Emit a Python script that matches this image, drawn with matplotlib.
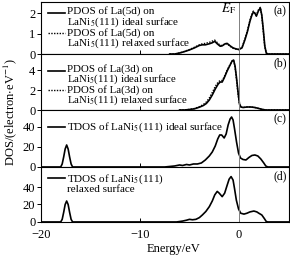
import numpy as np
import matplotlib
matplotlib.use("Agg")
from matplotlib import pyplot as plt

plt.rcParams['font.family'] = ['Liberation Serif', 'DejaVu Serif']
plt.rcParams['mathtext.fontset'] = 'stix'

# Panel (a): PDOS of La(5d)
e_a = [-7.0, -6.5, -6.0, -5.5, -5.0, -4.5, -4.0, -3.7, -3.4, -3.0, -2.7, -2.45, -2.2, -1.9, -1.7,
       -1.4, -1.2, -0.9, -0.6, -0.3, 0.0, 0.3, 0.6, 0.85, 1.1, 1.3, 1.45, 1.6, 1.75, 1.95, 2.15,
       2.3, 2.45, 2.6, 2.75, 2.9, 5.0]
a_ideal = [0, 0.0, 0.05, 0.12, 0.2, 0.3, 0.42, 0.45, 0.45, 0.5, 0.55, 0.62, 0.5, 0.38, 0.4,
           0.5, 0.52, 0.4, 0.3, 0.25, 0.22, 0.3, 0.7, 1.1, 1.6, 1.9, 2.05, 2.0, 1.85, 2.1, 2.25,
           1.9, 1.2, 0.4, 0.05, 0, 0]
a_relax = [0, 0.0, 0.05, 0.13, 0.22, 0.33, 0.45, 0.5, 0.52, 0.57, 0.63, 0.68, 0.56, 0.42, 0.42,
           0.5, 0.5, 0.38, 0.28, 0.24, 0.22, 0.32, 0.75, 1.15, 1.65, 1.95, 2.1, 1.98, 1.9, 2.15, 2.28,
           1.85, 1.1, 0.35, 0.05, 0, 0]

# Panel (b): PDOS of La(3d)
e_b = [-6.0, -5.5, -5.0, -4.5, -4.0, -3.6, -3.3, -3.0, -2.7, -2.4, -2.1, -1.9, -1.7, -1.5, -1.2,
       -0.9, -0.7, -0.55, -0.4, -0.25, -0.1, 0.05, 0.2, 0.4, 0.8, 1.2, 1.6, 2.0, 2.4, 2.7, 5.0]
b_ideal = [0, 0, 0.05, 0.12, 0.28, 0.45, 0.65, 1.0, 1.5, 2.1, 2.6, 2.8, 2.8, 3.2, 3.9,
           4.5, 4.9, 5.0, 4.4, 3.2, 1.8, 0.6, 0.3, 0.25, 0.3, 0.3, 0.25, 0.15, 0.05, 0, 0]
b_relax = [0, 0, 0.06, 0.15, 0.33, 0.55, 0.8, 1.2, 1.75, 2.35, 2.8, 2.95, 2.95, 3.3, 4.0,
           4.55, 4.9, 5.0, 4.3, 3.0, 1.6, 0.55, 0.3, 0.25, 0.3, 0.3, 0.25, 0.15, 0.05, 0, 0]

# Panel (c): TDOS ideal surface
e_c = [-20.0, -18.0, -17.85, -17.7, -17.55, -17.4, -17.25, -17.1, -16.95, -16.8, -7.5, -7.0, -6.5,
       -6.0, -5.7, -5.3, -5.0, -4.6, -4.2, -3.8, -3.4, -3.0, -2.7, -2.4, -2.15, -1.95, -1.75, -1.5,
       -1.3, -1.1, -0.9, -0.75, -0.6, -0.45, -0.25, -0.05, 0.15, 0.4, 0.7, 1.0, 1.3, 1.6, 1.9,
       2.2, 2.5, 2.7, 2.9, 5.0]
c_tdos = [0, 0, 3, 10, 18, 22, 18, 10, 3, 0, 0, 0.5, 1,
          2, 1.5, 2.5, 2, 3, 3, 4, 7, 11, 15, 21, 28, 32, 32, 29,
          33, 42, 48, 50, 47, 38, 25, 14, 9, 7.5, 7, 9.5, 11.5, 12, 11,
          8, 4, 1, 0, 0]

# Panel (d): TDOS relaxed surface
e_d = [-20.0, -18.0, -17.85, -17.7, -17.55, -17.4, -17.25, -17.1, -16.95, -16.8, -7.0, -6.3, -5.7,
       -5.3, -5.0, -4.7, -4.35, -4.0, -3.7, -3.35, -3.0, -2.7, -2.45, -2.2, -2.0, -1.7, -1.45,
       -1.2, -1.0, -0.8, -0.6, -0.45, -0.27, -0.05, 0.17, 0.5, 0.8, 1.1, 1.5, 1.8, 2.0, 2.3,
       2.55, 2.75, 2.9, 5.0]
d_tdos = [0, 0, 3, 11, 20, 24, 20, 11, 3, 0, 0, 0, 1,
          2, 3, 2.5, 3, 5, 8, 12, 17.5, 24, 31, 35, 33, 29, 33,
          42, 49, 52, 48, 38, 25, 15, 10, 9, 10, 11.5, 12.5, 11.5, 10, 8,
          4, 0.5, 0, 0]

panel_tags = ['(a)', '(b)', '(c)', '(d)']

fig, axes = plt.subplots(4, 1, figsize=(2.9, 2.56), dpi=100, sharex=True,
                         gridspec_kw={'height_ratios': [52, 56, 57, 55], 'hspace': 0})
fig.subplots_adjust(left=0.141, right=0.995, bottom=0.133, top=0.992)

lw = 1.2
axes[0].plot(e_a, a_ideal, color='black', lw=lw)
axes[0].plot(e_a, a_relax, color='black', lw=1.0, ls=(0, (1, 1)))
axes[1].plot(e_b, b_ideal, color='black', lw=lw)
axes[1].plot(e_b, b_relax, color='black', lw=1.0, ls=(0, (1, 1)))
axes[2].plot(e_c, c_tdos, color='black', lw=lw)
axes[3].plot(e_d, d_tdos, color='black', lw=lw)

axes[0].set_ylim(0, 2.54)
axes[0].set_yticks([0, 1, 2])
axes[1].set_ylim(0, 5.6)
axes[1].set_yticks([0, 2, 4])
axes[2].set_ylim(0, 57)
axes[2].set_yticks([0, 20, 40])
axes[3].set_ylim(0, 63)
axes[3].set_yticks([0, 20, 40])

for ax, tag in zip(axes, panel_tags):
    ax.set_xlim(-20, 5)
    ax.axvline(0, color='#808080', lw=0.7)
    ax.tick_params(axis='y', direction='out', length=3, width=0.7, labelsize=9, pad=1)
    ax.tick_params(axis='x', direction='in', length=3, width=0.7, labelsize=9, pad=5)
    for sp in ax.spines.values():
        sp.set_linewidth(0.8)
    ax.text(0.993, 0.83, tag, transform=ax.transAxes, ha='right', va='center', fontsize=8.5)

axes[3].set_xticks([-20, -10, 0])

# legend-like annotations
fs = 8
tr = axes[0].transAxes
axes[0].plot([0.028, 0.097], [0.79, 0.79], transform=tr, color='black', lw=lw)
axes[0].text(0.105, 0.70, 'PDOS of La(5d) on\nLaNi$_5$(111) ideal surface', transform=tr,
             fontsize=fs, va='center', ha='left', linespacing=0.88)
axes[0].plot([0.028, 0.097], [0.40, 0.40], transform=tr, color='black', lw=1.0, ls=(0, (1, 1)))
axes[0].text(0.105, 0.29, 'PDOS of La(5d) on\nLaNi$_5$(111) relaxed surface', transform=tr,
             fontsize=fs, va='center', ha='left', linespacing=0.88)
axes[0].text(-0.3, 0.87, r'$E_\mathrm{F}$', transform=axes[0].get_xaxis_transform(),
             fontsize=9.5, ha='right', va='center')

tr = axes[1].transAxes
axes[1].plot([0.028, 0.097], [0.69, 0.69], transform=tr, color='black', lw=lw)
axes[1].text(0.105, 0.625, 'PDOS of La(3d) on\nLaNi$_5$(111) ideal surface', transform=tr,
             fontsize=7.8, va='center', ha='left', linespacing=0.8)
axes[1].plot([0.028, 0.097], [0.35, 0.35], transform=tr, color='black', lw=1.0, ls=(0, (1, 1)))
axes[1].text(0.105, 0.245, 'PDOS of La(3d) on\nLaNi$_5$(111) relaxed surface', transform=tr,
             fontsize=7.8, va='center', ha='left', linespacing=0.8)

tr = axes[2].transAxes
axes[2].plot([0.028, 0.097], [0.70, 0.70], transform=tr, color='black', lw=lw)
axes[2].text(0.105, 0.70, 'TDOS of LaNi$_5$(111) ideal surface', transform=tr,
             fontsize=fs, va='center', ha='left')

tr = axes[3].transAxes
axes[3].plot([0.028, 0.097], [0.80, 0.80], transform=tr, color='black', lw=lw)
axes[3].text(0.105, 0.70, 'TDOS of LaNi$_5$(111)\nrelaxed surface', transform=tr,
             fontsize=fs, va='center', ha='left', linespacing=0.92)

fig.text(0.034, 0.5625, 'DOS/(electron$\\cdot$eV$^{-1}$)', rotation=90, ha='center', va='center',
         fontsize=9)
fig.text(0.597, 0.026, 'Energy/eV', ha='center', va='center', fontsize=9)

fig.savefig('out.png', dpi=100)
